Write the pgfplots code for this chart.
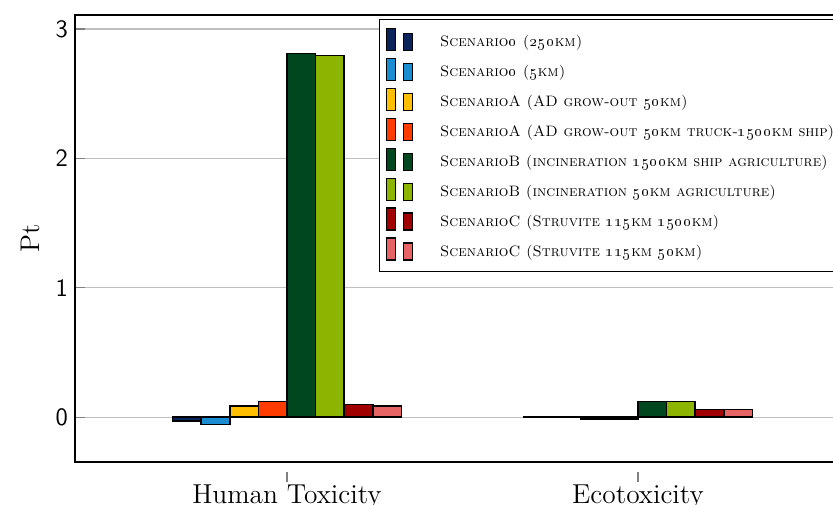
\documentclass[border=0pt]{standalone}
\usepackage{pgfplots}
\pgfplotsset{compat=1.18}

\definecolor{cNavy}{RGB}{10,35,90}
\definecolor{cBlue}{RGB}{25,140,210}
\definecolor{cYellow}{RGB}{255,190,0}
\definecolor{cOrange}{RGB}{255,60,0}
\definecolor{cDkGreen}{RGB}{0,70,30}
\definecolor{cLime}{RGB}{140,180,0}
\definecolor{cDkRed}{RGB}{160,0,0}
\definecolor{cSalmon}{RGB}{230,100,100}

\begin{document}
\begin{tikzpicture}
\begin{axis}[
  name=ax,
  scale only axis,
  width=387.5pt, height=223.5pt,
  xmin=-0.604, xmax=1.604,
  ymin=-0.346, ymax=3.108,
  xtick={0,1},
  xticklabels={Human Toxicity, Ecotoxicity},
  ytick={0,1,2,3},
  xtick pos=bottom, ytick pos=left,
  tick align=inside,
  major tick length=5pt,
  every x tick/.append style={yshift=-5pt},
  tick style={gray, line width=0.6pt},
  ymajorgrids,
  grid style={black!25, line width=0.6pt},
  axis line style={line width=0.7pt},
  ybar=0pt, bar width=0.0815,
  every axis plot/.append style={draw=black, line width=0.75pt},
  xticklabel style={font=\fontsize{13.7}{15}\selectfont, yshift=-3pt},
  yticklabel style={font=\fontsize{12.5}{14}\selectfont\sffamily},
  /pgf/number format/assume math mode=true,
  ylabel={Pt},
  every axis y label/.style={at={(axis description cs:0,0.5)}, xshift=-22.5pt, rotate=90, anchor=center, font=\fontsize{13.5}{15}\selectfont},
  legend style={at={(1,1)}, anchor=north east, xshift=-2.5pt, yshift=-2pt,
    draw=black, line width=0.7pt, font=\fontsize{7.55}{9.5}\selectfont\scshape,
    row sep=2.1pt, inner xsep=3pt, inner ysep=4pt},
  legend cell align=left,
  legend image code/.code={
    \draw[#1, line width=0.6pt] (0pt,-4pt) rectangle (4.5pt,7pt);
    \draw[#1, line width=0.6pt] (8.75pt,-4pt) rectangle (13.25pt,4.5pt);
    \path[draw=none, fill=none] (0pt,0pt) -- (25pt,0pt);
  },
]
\addplot[fill=cNavy]    coordinates {(0,-0.030) (1,-0.002)};
\addplot[fill=cBlue]    coordinates {(0,-0.055) (1,-0.002)};
\addplot[fill=cYellow]  coordinates {(0,0.088)  (1,-0.012)};
\addplot[fill=cOrange]  coordinates {(0,0.120)  (1,-0.012)};
\addplot[fill=cDkGreen] coordinates {(0,2.810)  (1,0.120)};
\addplot[fill=cLime]    coordinates {(0,2.795)  (1,0.120)};
\addplot[fill=cDkRed]   coordinates {(0,0.100)  (1,0.060)};
\addplot[fill=cSalmon]  coordinates {(0,0.088)  (1,0.060)};
\legend{
  Scenario\oldstylenums{0} (\oldstylenums{250}km),
  Scenario\oldstylenums{0} (\oldstylenums{5}km),
  ScenarioA (AD grow-out \oldstylenums{50}km),
  ScenarioA (AD grow-out \oldstylenums{50}km truck-\oldstylenums{1500}km ship),
  ScenarioB (incineration \oldstylenums{1500}km ship agriculture),
  ScenarioB (incineration \oldstylenums{50}km agriculture),
  ScenarioC (Struvite \oldstylenums{115}km \oldstylenums{1500}km),
  ScenarioC (Struvite \oldstylenums{115}km \oldstylenums{50}km)
}
\end{axis}
\pgfresetboundingbox
\path[use as bounding box] ([shift={(-37.5pt,-21pt)}]ax.south west)
  rectangle ([shift={(379pt,7.5pt)}]ax.north west);
\end{tikzpicture}
\end{document}
